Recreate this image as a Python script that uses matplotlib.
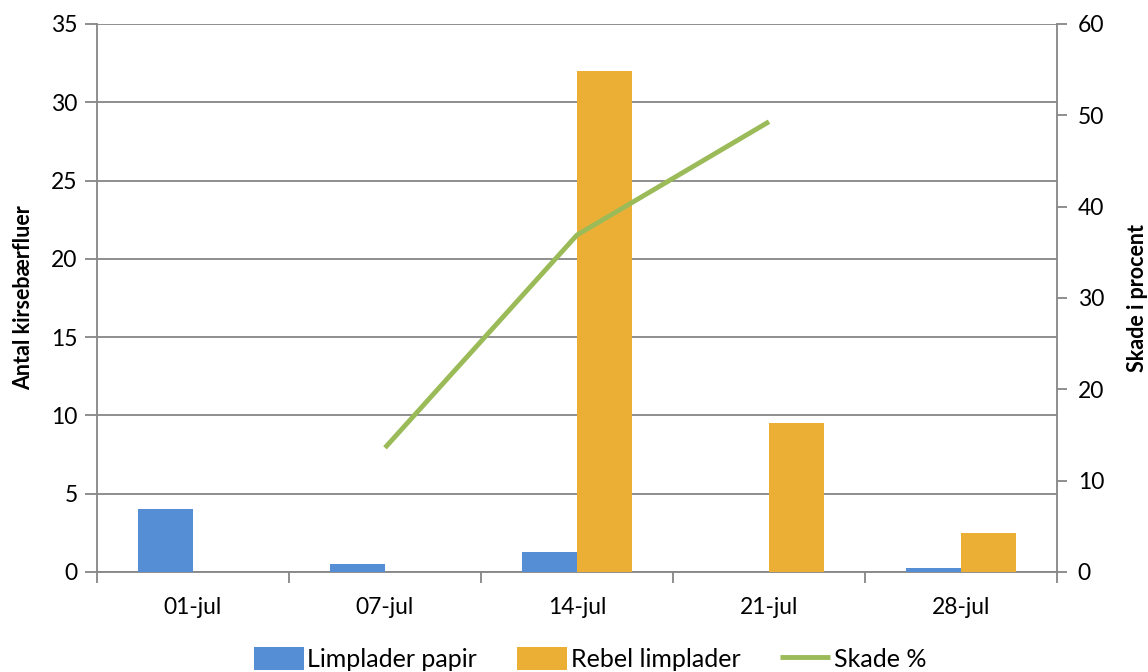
import matplotlib.pyplot as plt
import numpy as np

datoer = ["01-jul", "07-jul", "14-jul", "21-jul", "28-jul"]
papir = [4, 0.5, 1.3, 0, 0.25]
rebel = [0, 0, 32, 9.5, 2.5]
skade = [np.nan, 13.6, 36.9, 49.3, np.nan]

blaa = "#558ED5"
orange = "#EBAF36"
groen = "#9BBB59"
graa = "#868686"

plt.rcParams["font.family"] = ["Lato", "DejaVu Sans"]

fig = plt.figure(figsize=(11.48, 6.72), dpi=100)
ax = fig.add_axes([97 / 1148, 1 - 572 / 672, 960 / 1148, 548 / 672])
ax2 = ax.twinx()

x = np.arange(len(datoer))
b = 0.286
ax.bar(x - b / 2, papir, width=b, color=blaa, label="Limplader papir", zorder=3)
ax.bar(x + b / 2, rebel, width=b, color=orange, label="Rebel limplader", zorder=3)
ax2.plot(x, skade, color=groen, lw=3.5, label="Skade %", solid_capstyle="butt")

ax.set_xlim(-0.5, len(datoer) - 0.5)
ax.set_ylim(0, 35)
ax.set_yticks(range(0, 36, 5))
ax2.set_ylim(0, 60)
ax2.set_yticks(range(0, 61, 10))

ax.set_xticks(x)
ax.set_xticklabels(datoer)
ax.set_xticks(np.arange(-0.5, len(datoer)), minor=True)
ax.tick_params(axis="x", which="major", length=0, pad=18, labelsize=16.5)
ax.tick_params(axis="x", which="minor", length=8, color=graa, width=1.3)
ax.tick_params(axis="y", length=9, color=graa, width=1.3, labelsize=16.5, pad=5)
ax2.tick_params(axis="y", length=7, color=graa, width=1.3, labelsize=16.5, pad=8)

ax.yaxis.grid(True, color=graa, lw=1.3, zorder=0)
ax.set_axisbelow(True)
for a in (ax, ax2):
    a.spines["top"].set_visible(False)
    for s in ("left", "right", "bottom"):
        a.spines[s].set_color(graa)
        a.spines[s].set_linewidth(1.3)
ax.spines["right"].set_visible(False)
ax2.spines["left"].set_visible(False)
ax2.spines["bottom"].set_visible(False)

ax.set_ylabel("Antal kirsebærfluer", fontsize=15.5, fontweight="bold", labelpad=12)
ax2.set_ylabel("Skade i procent", fontsize=15.5, fontweight="bold", labelpad=16)

h1, l1 = ax.get_legend_handles_labels()
h2, l2 = ax2.get_legend_handles_labels()
fig.legend(h1 + h2, l1 + l2, loc="center", bbox_to_anchor=(0.514, 1 - 659 / 672),
           ncol=3, frameon=False, fontsize=18, handlelength=2.0, handleheight=1.0,
           handletextpad=0.15, columnspacing=1.6, borderpad=0)

fig.savefig("out.png", dpi=100)
